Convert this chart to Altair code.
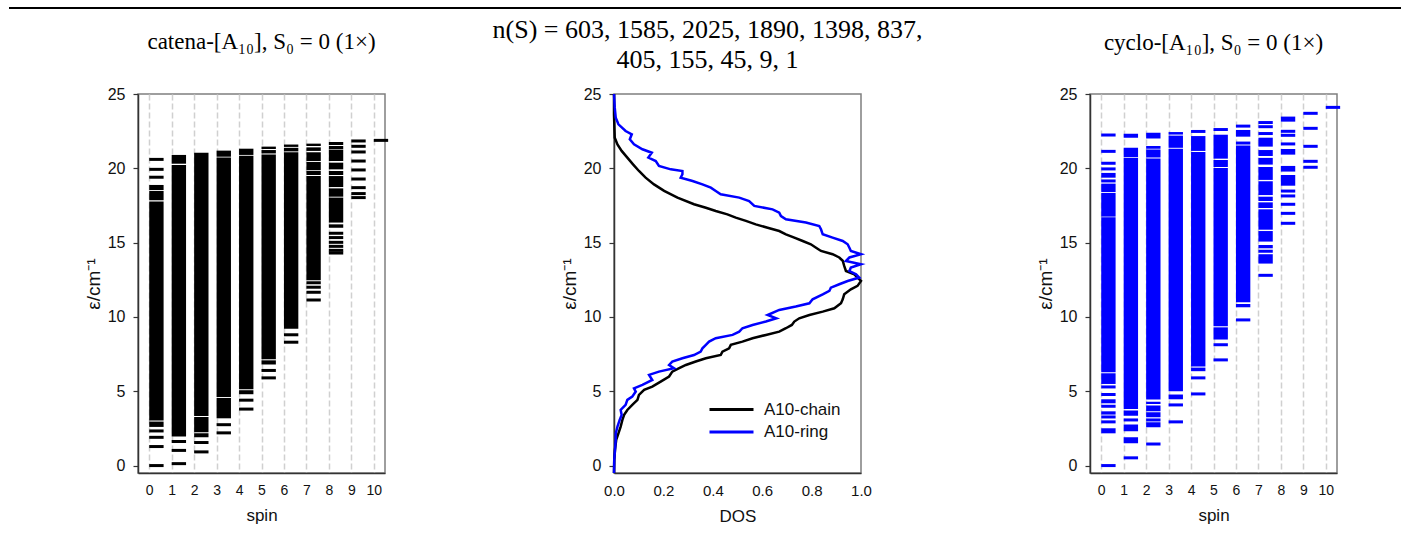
import altair as alt
import pandas as pd

SPINS = list(range(11))

# Energy levels per spin (index = spin). Numbers: isolated levels; tuples: dense bands (lo, hi)
CATENA = [
    [20.6, 19.93, 19.4, (18.54, 18.88), (17.85, 18.48), (3.03, 17.76), (2.6, 2.96), 2.33, 1.9, 1.28, 0.0],
    [(20.31, 20.9), (1.95, 20.22), 1.62, 1.02, 0.13],
    [(3.33, 21.05), (2.24, 3.27), (1.9, 2.17), 1.55, 0.92],
    [(20.78, 21.19), (4.62, 20.72), (3.18, 4.55), 2.75, 2.2],
    [(20.9, 21.32), (5.13, 20.84), (4.8, 5.07), 4.4, 3.8],
    [(21.3, 21.46), (21.0, 21.23), (7.15, 20.93), (6.8, 7.08), 6.4, 5.9],
    [(21.44, 21.6), (21.14, 21.38), (9.2, 21.08), 8.8, 8.3],
    [(21.5, 21.66), (21.17, 21.41), (20.49, 21.08), (19.87, 20.43), (19.55, 19.82),
     (12.47, 19.48), 12.3, 12.0, 11.66, 11.14],
    [(21.57, 21.77), (21.3, 21.5), (20.49, 21.26), (19.93, 20.38), (19.55, 19.82),
     (18.74, 19.48), (18.09, 18.65), (16.35, 18.03), (16.0, 16.23),
     15.63, 15.34, 15.02, 14.75, 14.48, 14.3],
    [21.84, 21.48, 21.1, 20.49, 19.89, 19.28, 18.7, 18.3, 18.03],
    [21.88],
]

CYCLO = [
    [22.24, 21.14, 20.34, 19.96, (19.37, 19.69), 19.15, (18.4, 18.97), (16.75, 18.34),
     (6.28, 16.7), (5.49, 6.21), 5.29, 4.78, (4.19, 4.46), 3.99, (3.43, 3.65), 3.27,
     2.94, (2.17, 2.51), 0.0],
    [(22.06, 22.33), (20.75, 21.39), (3.81, 20.69), (3.36, 3.7), 3.07, (2.31, 2.76),
     (1.5, 1.9), 0.52],
    [(22.0, 22.4), (21.32, 21.5), (20.72, 21.26), (4.44, 20.66), (4.15, 4.3),
     (3.65, 4.04), (3.25, 3.59), 3.07, (2.58, 2.91), 1.45],
    [(22.27, 22.44), (21.38, 22.2), (5.0, 21.32), (4.46, 4.78), 4.08, 2.94],
    [(22.38, 22.58), (21.17, 22.17), (6.66, 21.1), (6.35, 6.59), 5.9, 4.82],
    [(22.51, 22.71), (20.65, 22.26), (20.09, 20.56), (9.37, 20.02), (8.48, 9.3), 8.13, 7.11],
    [(22.74, 22.94), (22.13, 22.58), (21.6, 21.8), (10.99, 21.53), (10.65, 10.87), 9.8],
    [(22.98, 23.18), 22.8, 22.34, (21.46, 22.06), (20.83, 21.23), (20.25, 20.7),
     (19.22, 20.09), (18.2, 19.13), (17.8, 18.09), (17.33, 17.71), (15.87, 17.24),
     (15.07, 15.78), (14.62, 14.84), 14.42, (13.59, 14.22), 12.8],
    [(23.14, 23.48), 22.49, 22.22, 21.64, (20.92, 21.3), (19.78, 20.16), (18.83, 19.55),
     18.47, 18.14, 17.58, 16.97, 16.3],
    [23.7, 22.69, 21.48, 20.47, 20.07],
    [24.1],
]

CHAIN_E = [25, 23.6, 22.06, 21.6, 21.17, 20.72, 20.27, 19.82, 19.37, 18.92, 18.48, 18.03,
           17.58, 17.35, 17.13, 16.9, 16.68, 16.46, 16.23, 16.0, 15.78, 15.56, 15.34, 15.11,
           14.89, 14.66, 14.44, 14.22, 14.0, 13.78, 13.43, 13.09, 12.87, 12.65, 12.42, 12.09,
           11.86, 11.52, 11.19, 10.92, 10.58, 10.36, 10.13, 9.91, 9.69, 9.46, 9.24, 9.01,
           8.79, 8.57, 8.34, 8.12, 7.89, 7.67, 7.44, 7.22, 7.0, 6.77, 6.55, 6.32, 5.99, 5.65,
           5.31, 5.09, 4.75, 4.42, 4.08, 3.74, 3.41, 3.07, 2.62, 2.17, 1.73, 1.05, 0.38, -0.5]
CHAIN_DOS = [0, 0, 0.003, 0.014, 0.031, 0.054, 0.077, 0.101, 0.128, 0.162, 0.203, 0.257,
             0.324, 0.372, 0.412, 0.459, 0.493, 0.534, 0.574, 0.622, 0.669, 0.696, 0.73, 0.764,
             0.797, 0.818, 0.838, 0.885, 0.912, 0.926, 0.932, 0.939, 0.973, 0.986, 1.0, 0.986,
             0.959, 0.932, 0.926, 0.919, 0.892, 0.845, 0.791, 0.75, 0.73, 0.72, 0.696, 0.669,
             0.615, 0.561, 0.52, 0.473, 0.466, 0.439, 0.432, 0.372, 0.331, 0.291, 0.264, 0.236,
             0.223, 0.189, 0.155, 0.122, 0.101, 0.095, 0.074, 0.054, 0.041, 0.034, 0.027, 0.018,
             0.009, 0.004, 0.001, 0]

RING_E = [25, 24.08, 23.41, 22.96, 22.51, 22.29, 21.95, 21.61, 21.28, 21.05, 20.72, 20.49,
          20.16, 19.93, 19.82, 19.6, 19.37, 19.15, 18.92, 18.7, 18.48, 18.25, 18.03, 17.8,
          17.47, 17.24, 17.02, 16.79, 16.57, 16.35, 16.12, 15.9, 15.56, 15.34, 15.11, 14.89,
          14.66, 14.44, 14.22, 14.0, 13.77, 13.55, 13.32, 13.09, 12.87, 12.65, 12.42, 12.2,
          11.97, 11.75, 11.52, 11.19, 10.92, 10.7, 10.47, 10.13, 9.91, 9.69, 9.46, 9.24, 9.01,
          8.79, 8.57, 8.34, 8.12, 7.89, 7.67, 7.44, 7.22, 7.0, 6.77, 6.55, 6.32, 6.1, 5.76,
          5.43, 5.2, 4.98, 4.64, 4.42, 4.08, 3.74, 3.41, 3.07, 2.62, 2.17, 1.73, 1.05, 0.38, -0.5]
RING_DOS = [0, 0.003, 0.007, 0.018, 0.047, 0.072, 0.064, 0.081, 0.115, 0.153, 0.139, 0.169,
            0.182, 0.23, 0.277, 0.277, 0.27, 0.318, 0.358, 0.392, 0.412, 0.432, 0.507, 0.547,
            0.568, 0.642, 0.669, 0.676, 0.696, 0.777, 0.831, 0.838, 0.845, 0.885, 0.926, 0.946,
            0.953, 0.959, 1.0, 0.953, 0.939, 1.0, 0.959, 0.953, 0.98, 0.993, 0.946, 0.912,
            0.878, 0.872, 0.845, 0.804, 0.791, 0.736, 0.669, 0.622, 0.657, 0.615, 0.561, 0.52,
            0.507, 0.48, 0.412, 0.385, 0.372, 0.358, 0.351, 0.324, 0.277, 0.236, 0.223, 0.243,
            0.182, 0.142, 0.155, 0.115, 0.081, 0.088, 0.074, 0.054, 0.047, 0.027, 0.031, 0.023,
            0.014, 0.007, 0.007, 0.004, 0.001, 0]

SERIES = ["A10-chain", "A10-ring"]
SERIES_COLORS = ["#000000", "#0000ff"]
Y_TICKS = [0, 5, 10, 15, 20, 25]
DOS_TICKS = [0.0, 0.2, 0.4, 0.6, 0.8, 1.0]

SANS = "Liberation Sans"
SERIF = "Liberation Serif"
W, H = 247, 379


def split(levels):
    lines, bands = [], []
    for s, items in enumerate(levels):
        for it in items:
            if isinstance(it, tuple):
                bands.append({"spin": s, "lo": it[0], "hi": it[1]})
            else:
                lines.append({"spin": s, "e": it})
    return pd.DataFrame(lines), pd.DataFrame(bands)


def y_axis():
    return alt.Axis(values=Y_TICKS, title="ε/cm⁻¹", tickSize=5, labelFontSize=16,
                    labelPadding=8, titleFontSize=19, titlePadding=4, grid=False,
                    labelFlush=False, labelOverlap=False)


def spin_x_axis():
    return alt.Axis(values=SPINS, tickCount=11, title="spin", grid=True, gridDash=[6, 3],
                    gridColor="#d0d0d0", gridWidth=1.5, ticks=False, labelPadding=10,
                    labelFontSize=14, titleFontSize=17, titlePadding=10, format="d",
                    labelOverlap=False, labelFlush=False)


yscale = alt.Scale(domain=[-0.5, 25], nice=False, zero=False)
spin_scale = alt.Scale(domain=[-0.5, 10.5], nice=False, zero=False)


def title_params(text, offset, size, dx=0, line_height=30):
    return alt.TitleParams(text, font=SERIF, fontSize=size, fontWeight="normal",
                           anchor="middle", baseline="alphabetic", frame="group",
                           offset=offset, dx=dx, lineHeight=line_height, color="#000000")


def spin_panel(levels, color):
    lines, bands = split(levels)
    band = alt.Chart(bands).transform_calculate(x2="datum.spin + 0.64").mark_rect(
        color=color).encode(
        x=alt.X("spin:Q", scale=spin_scale, axis=spin_x_axis()),
        x2="x2:Q",
        y=alt.Y("lo:Q", scale=yscale, axis=y_axis()),
        y2="hi:Q")
    line = alt.Chart(lines).transform_calculate(x2="datum.spin + 0.64").mark_rule(
        color=color, strokeWidth=3).encode(
        x=alt.X("spin:Q", scale=spin_scale, axis=spin_x_axis()),
        x2="x2:Q",
        y=alt.Y("e:Q", scale=yscale, axis=y_axis()))
    return band, line


lband, lline = spin_panel(CATENA, "#000000")
topline = alt.Chart(pd.DataFrame({"k": [0]})).mark_rule(color="#000000", strokeWidth=2).encode(
    x=alt.value(-129), x2=alt.value(1263), y=alt.value(-86))
left = alt.layer(lband, lline, topline).properties(
    width=W, height=H, title=title_params("catena-[A₁₀], S₀ = 0 (1×)", offset=-65, size=23))

rband, rline = spin_panel(CYCLO, "#0000ff")
right = alt.layer(rband, rline).properties(
    width=W, height=H, title=title_params("cyclo-[A₁₀], S₀ = 0 (1×)", offset=13, size=23))

dos_rows = []
for e, d in zip(CHAIN_E, CHAIN_DOS):
    dos_rows.append({"series": SERIES[0], "e": e, "dos": d})
for e, d in zip(RING_E, RING_DOS):
    dos_rows.append({"series": SERIES[1], "e": e, "dos": d})
dos_df = pd.DataFrame(dos_rows)

middle = alt.Chart(dos_df).mark_line(strokeWidth=2.5).encode(
    x=alt.X("dos:Q", scale=alt.Scale(domain=[0, 1], nice=False, zero=False),
            axis=alt.Axis(values=DOS_TICKS, format=".1f", title="DOS", ticks=False,
                          labelPadding=10, labelFontSize=15, titleFontSize=17,
                          titlePadding=10, grid=False, labelFlush=False,
                          labelOverlap=False)),
    y=alt.Y("e:Q", scale=yscale, axis=y_axis()),
    order="e:Q",
    color=alt.Color("series:N", scale=alt.Scale(domain=SERIES, range=SERIES_COLORS),
                    legend=alt.Legend(title=None, orient="none", legendX=570, legendY=303,
                                      symbolType="M-1,0H3", symbolSize=484,
                                      symbolStrokeWidth=3, labelFontSize=17, labelFont=SANS,
                                      labelOffset=31, rowPadding=1.5, padding=0,
                                      labelColor="#111111")),
).properties(
    width=W, height=H,
    title=title_params(["n(S) = 603, 1585, 2025, 1890, 1398, 837,", "405, 155, 45, 9, 1"],
                       offset=-8, size=26, dx=-30))

chart = alt.hconcat(left, middle, right, spacing=229, bounds="flush").properties(
    padding={"left": 7, "top": 6, "right": 5, "bottom": 5}
).configure_axis(
    labelFont=SANS, titleFont=SANS, domainColor="#333333", domainWidth=1.5,
    tickColor="#333333", tickWidth=1.2, labelColor="#111111", titleColor="#111111",
    titleFontWeight="normal"
).configure_view(stroke="#7f7f7f", strokeWidth=1.5)

chart.save("out.html", embed_options={"renderer": "svg", "actions": False})
